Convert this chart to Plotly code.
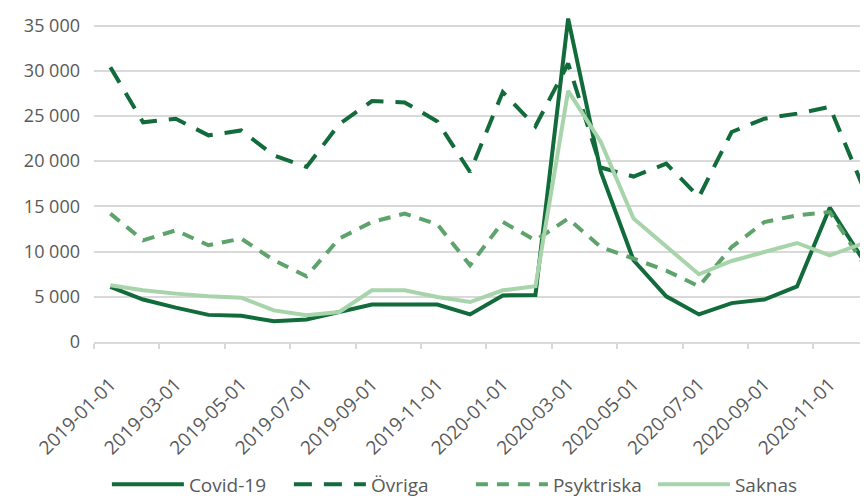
import plotly.graph_objects as go

dates = ["2019-01-01", "2019-02-01", "2019-03-01", "2019-04-01", "2019-05-01", "2019-06-01",
         "2019-07-01", "2019-08-01", "2019-09-01", "2019-10-01", "2019-11-01", "2019-12-01",
         "2020-01-01", "2020-02-01", "2020-03-01", "2020-04-01", "2020-05-01", "2020-06-01",
         "2020-07-01", "2020-08-01", "2020-09-01", "2020-10-01", "2020-11-01", "2020-12-01"]

covid = [6100, 4700, 3800, 3000, 2900, 2300, 2500, 3300, 4150, 4150, 4150, 3050,
         5150, 5200, 35770, 18800, 9040, 5050, 3050, 4300, 4700, 6150, 14860, 9200]
ovriga = [30400, 24300, 24700, 22860, 23400, 20650, 19360, 24100, 26650, 26500, 24400, 18800,
          27650, 23860, 30800, 19300, 18300, 19730, 16040, 23230, 24700, 25260, 26000, 17330]
psyk = [14200, 11250, 12350, 10700, 11440, 9040, 7270, 11440, 13270, 14200, 13020, 8480,
        13270, 11250, 13650, 10500, 9220, 7900, 6160, 10500, 13270, 14010, 14380, 8850]
saknas = [6270, 5720, 5350, 5050, 4900, 3500, 2950, 3320, 5720, 5720, 4980, 4420,
          5720, 6160, 27770, 22120, 13650, 10500, 7490, 8960, 9960, 10950, 9590, 10880]

names = ["Covid-19", "Övriga", "Psyktriska", "Saknas"]
colors = ["#116b3a", "#116b3a", "#5ea36b", "#a7d4aa"]
dashes = ["solid", "18px,12px", "12px,9px", "solid"]
series = [covid, ovriga, psyk, saknas]

FONT = "Open Sans"
GRAY = "#595959"

fig = go.Figure()
for name, vals, col, dash in zip(names, series, colors, dashes):
    fig.add_trace(go.Scatter(x=dates, y=vals, mode="lines", name=name,
                             line=dict(color=col, width=4, dash=dash)))

# the page body adds an 8px offset, so the figure is 8px smaller than the window
fig.update_layout(
    width=860, height=490,
    margin=dict(l=86, r=0, t=4, b=156, autoexpand=False),
    paper_bgcolor="white", plot_bgcolor="white",
    font=dict(family=FONT, size=18, color=GRAY),
    separators=", ",
    showlegend=True,
    legend=dict(orientation="h", xref="container", yref="container",
                x=0.115, xanchor="left", y=0.028, yanchor="middle",
                font=dict(family=FONT, size=19, color=GRAY),
                itemwidth=72, entrywidth=95, entrywidthmode="pixels",
                traceorder="normal"),
)
fig.update_xaxes(type="category", range=[-0.5, 23.17], tickson="boundaries", dtick=2,
                 showgrid=False, showline=True, linecolor="#d9d9d9", linewidth=1.5,
                 ticks="outside", ticklen=5, tickcolor="#d9d9d9", tickwidth=1.5,
                 tickangle=-45, ticklabelstandoff=22,
                 tickfont=dict(family=FONT, size=19, color=GRAY))
fig.update_yaxes(range=[0, 36500], dtick=5000, tick0=0, tickformat=",d",
                 showgrid=True, gridcolor="#d9d9d9", gridwidth=1.5,
                 zeroline=False, showline=False, ticks="", ticklabelstandoff=13,
                 tickfont=dict(family=FONT, size=18, color=GRAY))

fig.write_html("out.html")
